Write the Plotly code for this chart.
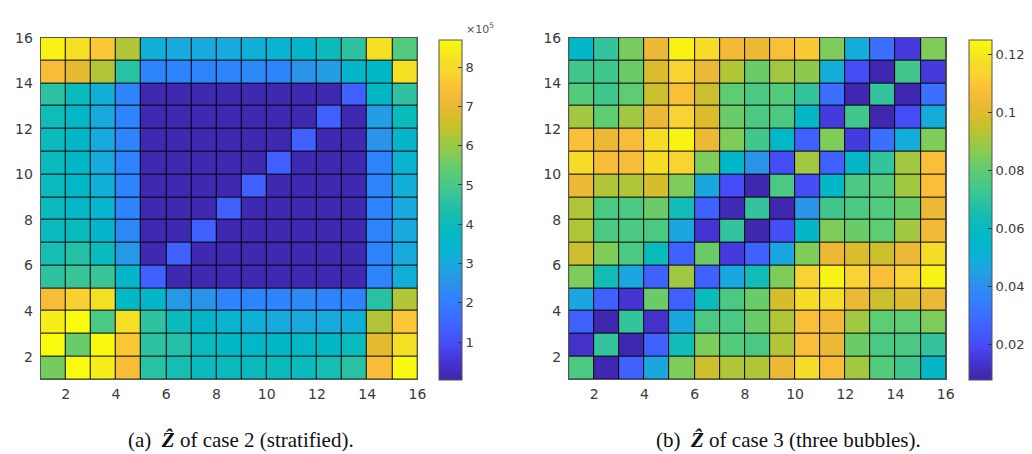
import plotly.graph_objects as go
from plotly.subplots import make_subplots

# grid edges (pcolor style: 16 grid lines -> 15x15 cells)
edges = list(range(1, 17))
axis_ticks = list(range(2, 17, 2))

# Z-hat case 2 (stratified), in units of 1e5, rows listed from top (y=16) to bottom (y=1)
z_case2 = [
    [8.55, 8.14, 7.62, 6.28, 3.16, 2.99, 2.99, 2.99, 3.16, 3.34, 3.51, 4.00, 4.63, 8.14, 5.15],
    [7.36, 6.93, 6.28, 4.55, 2.17, 2.17, 2.17, 2.17, 2.30, 2.17, 2.56, 2.73, 3.51, 3.68, 8.14],
    [4.60, 3.94, 3.16, 2.17, 0.15, 0.15, 0.15, 0.15, 0.15, 0.15, 0.15, 0.15, 1.35, 3.68, 4.63],
    [4.10, 3.68, 2.99, 2.17, 0.15, 0.15, 0.15, 0.15, 0.15, 0.15, 0.15, 1.35, 0.15, 2.73, 3.94],
    [3.94, 3.68, 2.99, 2.17, 0.15, 0.15, 0.15, 0.15, 0.15, 0.15, 1.35, 0.15, 0.15, 2.56, 3.51],
    [3.94, 3.68, 2.99, 2.17, 0.15, 0.15, 0.15, 0.15, 0.15, 1.35, 0.15, 0.15, 0.15, 2.17, 3.34],
    [3.94, 3.68, 3.16, 2.17, 0.15, 0.15, 0.15, 0.15, 1.35, 0.15, 0.15, 0.15, 0.15, 2.17, 3.16],
    [3.94, 3.68, 3.34, 2.17, 0.15, 0.15, 0.15, 1.35, 0.15, 0.15, 0.15, 0.15, 0.15, 2.17, 2.99],
    [3.94, 3.94, 3.51, 2.30, 0.15, 0.15, 1.35, 0.15, 0.15, 0.15, 0.15, 0.15, 0.15, 2.17, 2.99],
    [4.20, 4.46, 3.94, 2.65, 0.15, 1.35, 0.15, 0.15, 0.15, 0.15, 0.15, 0.15, 0.15, 2.17, 2.99],
    [4.63, 4.80, 4.80, 3.51, 1.35, 0.15, 0.15, 0.15, 0.15, 0.15, 0.15, 0.15, 0.15, 2.17, 3.16],
    [7.36, 7.75, 8.14, 3.68, 3.51, 2.65, 2.56, 2.17, 2.17, 2.17, 2.30, 2.17, 2.17, 4.55, 6.28],
    [8.44, 8.70, 5.07, 8.14, 4.63, 3.94, 3.51, 3.34, 3.16, 2.99, 2.99, 2.99, 3.16, 6.28, 7.62],
    [8.70, 5.50, 8.65, 7.62, 4.63, 4.46, 3.94, 3.68, 3.68, 3.68, 3.68, 3.68, 3.94, 6.93, 8.14],
    [5.63, 8.70, 8.44, 7.36, 4.55, 4.20, 3.94, 3.94, 3.94, 3.94, 3.94, 4.20, 4.55, 7.36, 8.65],
]

# Z-hat case 3 (three bubbles), rows from top (y=16) to bottom (y=1)
z_case3 = [
    [0.056, 0.071, 0.084, 0.103, 0.123, 0.116, 0.105, 0.103, 0.108, 0.111, 0.085, 0.049, 0.030, 0.016, 0.085],
    [0.074, 0.074, 0.082, 0.099, 0.113, 0.103, 0.092, 0.082, 0.090, 0.087, 0.049, 0.021, 0.009, 0.074, 0.016],
    [0.078, 0.074, 0.080, 0.096, 0.108, 0.096, 0.080, 0.076, 0.078, 0.071, 0.030, 0.009, 0.071, 0.009, 0.030],
    [0.090, 0.080, 0.090, 0.103, 0.113, 0.099, 0.082, 0.076, 0.076, 0.056, 0.016, 0.074, 0.009, 0.021, 0.049],
    [0.108, 0.103, 0.107, 0.117, 0.123, 0.103, 0.085, 0.074, 0.057, 0.026, 0.085, 0.016, 0.030, 0.049, 0.085],
    [0.117, 0.107, 0.107, 0.117, 0.113, 0.085, 0.056, 0.042, 0.021, 0.090, 0.026, 0.056, 0.071, 0.090, 0.108],
    [0.103, 0.092, 0.092, 0.098, 0.085, 0.047, 0.021, 0.009, 0.076, 0.021, 0.056, 0.076, 0.078, 0.090, 0.108],
    [0.092, 0.076, 0.076, 0.082, 0.063, 0.026, 0.010, 0.071, 0.009, 0.042, 0.074, 0.076, 0.077, 0.082, 0.103],
    [0.092, 0.076, 0.076, 0.076, 0.047, 0.014, 0.071, 0.009, 0.021, 0.056, 0.085, 0.082, 0.080, 0.090, 0.105],
    [0.096, 0.085, 0.076, 0.061, 0.026, 0.082, 0.016, 0.026, 0.047, 0.085, 0.103, 0.099, 0.096, 0.103, 0.117],
    [0.085, 0.063, 0.047, 0.026, 0.090, 0.026, 0.047, 0.063, 0.085, 0.113, 0.123, 0.113, 0.108, 0.113, 0.123],
    [0.047, 0.026, 0.014, 0.082, 0.026, 0.061, 0.076, 0.082, 0.098, 0.117, 0.117, 0.103, 0.096, 0.099, 0.103],
    [0.026, 0.009, 0.071, 0.013, 0.047, 0.076, 0.076, 0.082, 0.092, 0.108, 0.105, 0.090, 0.080, 0.080, 0.085],
    [0.013, 0.071, 0.009, 0.026, 0.063, 0.085, 0.078, 0.076, 0.092, 0.108, 0.103, 0.082, 0.076, 0.076, 0.071],
    [0.076, 0.009, 0.026, 0.047, 0.085, 0.096, 0.092, 0.092, 0.103, 0.117, 0.107, 0.090, 0.078, 0.074, 0.056],
]

cbar2_ticks = [1, 2, 3, 4, 5, 6, 7, 8]
cbar3_ticks = [0.02, 0.04, 0.06, 0.08, 0.1, 0.12]
cbar3_text = ["0.02", "0.04", "0.06", "0.08", "0.1", "0.12"]

captions = ["(a)  <b><i>Ẑ</i></b> of case 2 (stratified).",
            "(b)  <b><i>Ẑ</i></b> of case 3 (three bubbles)."]

# approx. MATLAB parula
parula = [
    [0.000, "#3e26a8"], [0.050, "#4433d0"], [0.100, "#4749f3"], [0.150, "#4060ff"],
    [0.190, "#3a70ff"], [0.245, "#2e84fc"], [0.290, "#2a94e8"], [0.340, "#18aade"],
    [0.380, "#08b4d0"], [0.420, "#02b8c6"], [0.460, "#0cbcba"], [0.500, "#1ebeaa"],
    [0.540, "#34c49c"], [0.580, "#4ac984"], [0.620, "#60cc70"], [0.660, "#80cc58"],
    [0.700, "#a0c840"], [0.740, "#c4c12e"], [0.780, "#dcbc2c"], [0.820, "#f0b838"],
    [0.860, "#fcc038"], [0.900, "#f8d430"], [0.940, "#f4e024"], [1.000, "#f9fb0e"],
]

W, H = 1032, 454
FONT = "DejaVu Sans"
TXT = "#3a3a3a"

def px_x(p): return p / W
def px_y(p): return 1 - p / H

fig = make_subplots(rows=1, cols=2)

cb_common = dict(thickness=23, thicknessmode="pixels", len=346 / H, lenmode="fraction",
                 y=px_y((24 + 370) / 2), yanchor="middle", xanchor="left",
                 xpad=0, ypad=0, outlinecolor="#555", outlinewidth=1,
                 ticks="inside", ticklen=4, tickcolor="#333",
                 tickfont=dict(family=FONT, size=13, color=TXT))

fig.add_trace(go.Heatmap(
    z=z_case2[::-1], x=edges, y=edges, colorscale=parula, zmin=0.05, zmax=8.7,
    xgap=1, ygap=1, hoverinfo="skip",
    colorbar=dict(x=px_x(435), tickvals=cbar2_ticks, ticktext=[str(t) for t in cbar2_ticks], **cb_common),
), row=1, col=1)

fig.add_trace(go.Heatmap(
    z=z_case3[::-1], x=edges, y=edges, colorscale=parula, zmin=0.008, zmax=0.125,
    xgap=1, ygap=1, hoverinfo="skip",
    colorbar=dict(x=px_x(969), tickvals=cbar3_ticks, ticktext=cbar3_text, **cb_common),
), row=1, col=2)

ax_common = dict(range=[1, 16], tickvals=axis_ticks, ticks="", showgrid=False, zeroline=False,
                 showline=True, mirror=True, linecolor="#555", linewidth=1,
                 tickfont=dict(family=FONT, size=14, color=TXT))

fig.update_xaxes(ticklabelstandoff=2, **ax_common)
fig.update_yaxes(ticklabelstandoff=4, **ax_common)
fig.update_layout(
    xaxis=dict(domain=[px_x(33), px_x(413)]),
    xaxis2=dict(domain=[px_x(566), px_x(946)]),
    yaxis=dict(domain=[px_y(370), px_y(22)]),
    yaxis2=dict(domain=[px_y(370), px_y(22)]),
)

fig.add_annotation(text="×10<sup>5</sup>", x=px_x(460), y=px_y(13), xref="paper", yref="paper",
                   xanchor="left", yanchor="middle", showarrow=False,
                   font=dict(family=FONT, size=11, color="#555"))
for cx, txt in zip([235, 787], captions):
    fig.add_annotation(text=txt, x=px_x(cx), y=px_y(432), xref="paper", yref="paper",
                       xanchor="center", yanchor="middle", showarrow=False,
                       font=dict(family="Liberation Serif", size=21, color="#111"))

fig.update_layout(
    width=W, height=H,
    margin=dict(l=0, r=0, t=0, b=0),
    paper_bgcolor="white", plot_bgcolor="black",
)

fig.write_html("out.html")
